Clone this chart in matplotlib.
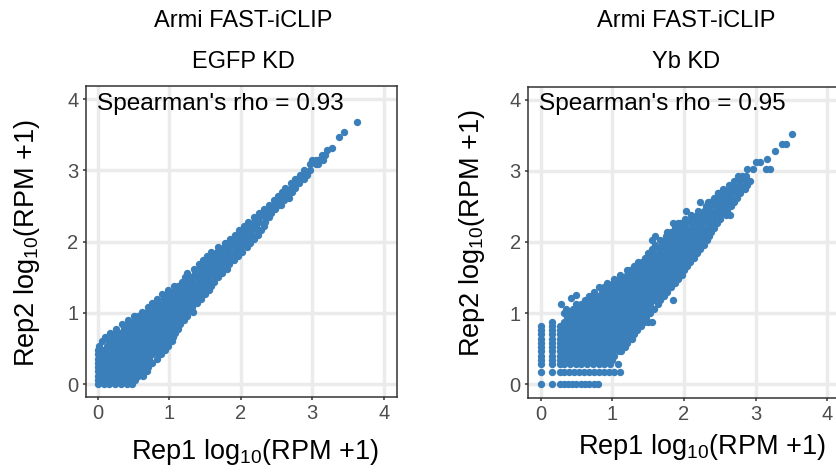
import numpy as np
import matplotlib
matplotlib.use("Agg")
import matplotlib.pyplot as plt

# values are read off the picture, in hundredths of a log10 unit
# each entry of *_levels is a Rep2 value, the matching row holds the Rep1 values
egfp_levels = [0, 6, 12, 18, 24, 30, 36, 42, 48, 54, 60, 66, 72, 78, 84, 90, 96, 102, 108, 114, 120, 126, 132, 138,
               144, 150, 156, 162, 168, 174, 180, 186, 192, 198, 204, 210, 216, 222, 228, 234, 240, 246, 252, 258,
               264, 270, 276, 282, 288, 294, 300, 309, 314, 315, 322, 329, 332, 347, 354, 368, 261]
egfp_rows = [
    [0, 8, 16, 24, 32, 40, 48],
    [0, 4, 12, 20, 28, 36, 44, 52],
    [0, 8, 16, 24, 32, 40, 48, 56, 63],
    [0, 4, 12, 20, 28, 36, 44, 52, 60, 68],
    [0, 8, 16, 24, 32, 40, 48, 56, 64, 70],
    [0, 4, 12, 20, 28, 36, 44, 52, 60, 68, 76],
    [0, 8, 16, 24, 32, 40, 48, 56, 64, 72, 82],
    [0, 4, 12, 20, 28, 36, 44, 52, 60, 68, 76, 84, 88],
    [0, 8, 16, 24, 32, 40, 48, 56, 64, 72, 80, 88, 94],
    [2, 12, 20, 28, 36, 44, 52, 60, 68, 76, 84, 92, 98],
    [5, 16, 24, 32, 40, 48, 56, 64, 72, 80, 88, 96, 103],
    [10, 20, 28, 36, 44, 52, 60, 68, 76, 84, 92, 100, 105],
    [17, 24, 32, 40, 48, 56, 64, 72, 80, 88, 96, 104, 108],
    [25, 36, 44, 52, 60, 68, 76, 84, 92, 100, 108, 112],
    [33, 40, 48, 56, 64, 72, 80, 88, 96, 104, 112, 115],
    [42, 52, 60, 68, 76, 84, 92, 100, 108, 116, 120],
    [50, 56, 64, 72, 80, 88, 96, 104, 112, 120, 124],
    [62, 68, 76, 84, 92, 100, 108, 116, 124, 133],
    [70, 80, 88, 96, 104, 112, 120, 128, 132],
    [76, 84, 92, 100, 108, 116, 124, 132, 138],
    [82, 92, 100, 108, 116, 124, 132, 140, 144],
    [90, 96, 104, 112, 120, 128, 136, 144, 150],
    [98, 108, 116, 124, 132, 140, 148, 155],
    [106, 112, 120, 128, 136, 144, 152, 158],
    [118, 124, 132, 140, 148, 156, 162],
    [122, 130, 138, 146, 154, 162, 168],
    [124, 136, 144, 152, 160, 168, 174],
    [134, 142, 150, 158, 166, 174, 180],
    [142, 148, 156, 164, 172, 180, 184],
    [147, 154, 162, 170, 178, 186, 190],
    [152, 160, 168, 176, 184, 192, 196],
    [158, 166, 174, 182, 190, 198, 202],
    [168, 176, 184, 192, 200, 208],
    [178, 186, 194, 202, 210, 213],
    [185, 193, 201, 209, 218],
    [192, 200, 208, 216, 224],
    [198, 206, 214, 222, 228],
    [205, 213, 221, 232],
    [210, 218, 226, 234],
    [218, 226, 234, 240],
    [226, 234, 242],
    [232, 240, 248],
    [240, 246, 252, 256],
    [246, 254, 260],
    [252, 258, 266],
    [258, 264, 272],
    [262, 270, 276],
    [270, 276, 281],
    [276, 282, 288],
    [283, 288, 292],
    [288, 297],
    [297, 305, 308],
    [299, 305],
    [315, 308],
    [313, 318],
    [321],
    [328],
    [338],
    [344],
    [362],
    [268],
]

yb_levels = [0, 17, 28, 34, 40, 46, 52, 58, 64, 70, 76, 82, 88, 94, 100, 106, 112, 118, 124, 130, 136, 142, 148, 154,
             160, 166, 172, 178, 184, 190, 196, 202, 208, 214, 220, 226, 232, 238, 244, 250, 256, 262, 268, 274,
             280, 286, 293, 302, 303, 312, 317, 328, 338, 351, 121, 126]
yb_rows = [
    [0, 16, 27, 33, 38, 44, 50, 56, 62, 68, 74, 80],
    [0, 16, 27, 33, 39, 46, 53, 60, 67, 74, 81, 88, 95, 103, 110],
    [0, 16, 27, 33, 41, 49, 57, 65, 73, 81, 89, 97, 108],
    [0, 16, 27, 33, 37, 45, 53, 61, 69, 77, 85, 93, 100],
    [0, 16, 27, 33, 41, 49, 57, 65, 73, 81, 89, 97, 103],
    [0, 16, 27, 33, 37, 45, 53, 61, 69, 77, 85, 93, 101, 109, 112],
    [0, 16, 27, 33, 41, 49, 57, 65, 73, 81, 89, 97, 105, 113, 118],
    [0, 16, 27, 33, 37, 45, 53, 61, 69, 77, 85, 93, 101, 109, 117, 120],
    [0, 16, 27, 33, 41, 49, 57, 65, 73, 81, 89, 97, 105, 113, 121, 127],
    [0, 16, 27, 33, 37, 45, 53, 61, 69, 77, 85, 93, 101, 109, 117, 125, 130],
    [0, 16, 27, 33, 41, 49, 57, 65, 73, 81, 89, 97, 105, 113, 121, 129, 135],
    [0, 16, 27, 33, 37, 45, 53, 61, 69, 77, 85, 93, 101, 109, 117, 125, 133, 140],
    [16, 33, 41, 49, 57, 65, 73, 81, 89, 97, 105, 113, 121, 129, 137, 144, 150, 155],
    [37, 45, 53, 61, 69, 77, 85, 93, 101, 109, 117, 125, 133, 141, 147],
    [33, 41, 49, 57, 65, 73, 81, 89, 97, 105, 113, 121, 129, 137, 145, 152],
    [36, 45, 53, 61, 69, 77, 85, 93, 101, 109, 117, 125, 133, 141, 149, 158],
    [28, 50, 57, 65, 73, 81, 89, 97, 105, 113, 121, 129, 137, 145, 153, 163],
    [62, 69, 77, 85, 93, 101, 109, 117, 125, 133, 141, 149, 157, 165, 167, 184],
    [68, 73, 81, 89, 97, 105, 113, 121, 129, 137, 145, 153, 161, 169, 172],
    [74, 85, 93, 101, 109, 117, 125, 133, 141, 149, 157, 165, 173, 176],
    [82, 89, 97, 105, 113, 121, 129, 137, 145, 153, 161, 169, 177, 182],
    [92, 101, 109, 117, 125, 133, 141, 149, 157, 165, 173, 181, 187],
    [102, 109, 117, 125, 133, 141, 149, 157, 165, 173, 181, 189, 192],
    [110, 121, 129, 137, 145, 153, 161, 169, 177, 185, 193, 197],
    [120, 125, 133, 141, 149, 157, 165, 173, 181, 189, 197, 200],
    [130, 137, 145, 153, 161, 169, 177, 185, 193, 201, 204],
    [136, 141, 149, 157, 165, 173, 181, 189, 197, 205, 208],
    [145, 153, 161, 169, 177, 185, 193, 201, 209, 214],
    [150, 157, 165, 173, 181, 189, 197, 205, 213, 218],
    [156, 165, 173, 181, 189, 197, 205, 213, 222],
    [160, 169, 177, 185, 193, 201, 209, 217, 225, 228],
    [155, 166, 173, 181, 189, 197, 205, 213, 221, 229, 232],
    [159, 175, 183, 191, 199, 207, 215, 223, 231, 235],
    [176, 182, 189, 197, 205, 213, 221, 229, 238],
    [188, 195, 203, 211, 219, 227, 235, 242],
    [185, 192, 194, 201, 209, 217, 225, 233, 241, 246],
    [202, 209, 217, 225, 233, 241, 250],
    [210, 218, 226, 234, 242, 250, 258, 264],
    [203, 220, 228, 236, 244, 252, 260],
    [230, 238, 246, 254, 262, 265],
    [222, 233, 236, 244, 252, 260, 268, 270],
    [242, 250, 258, 266, 274],
    [247, 248, 256, 264, 272, 278],
    [255, 263, 271, 279, 285],
    [262, 270, 278, 288],
    [270, 278, 286, 292],
    [275, 281, 287],
    [288, 296],
    [320, 314],
    [301, 306],
    [315],
    [327],
    [336, 342],
    [350],
    [43],
    [50],
]

ticks = [0, 1, 2, 3, 4]
titles_top = ["Armi FAST-iCLIP", "Armi FAST-iCLIP"]
titles_bottom = ["EGFP KD", "Yb KD"]
rho_labels = ["Spearman's rho = 0.93", "Spearman's rho = 0.95"]
x_label = "Rep1 log$_{10}$(RPM +1)"
y_label = "Rep2 log$_{10}$(RPM +1)"

W, H = 837, 472
plt.rcParams["font.family"] = ["Liberation Sans", "DejaVu Sans"]
plt.rcParams["mathtext.default"] = "regular"


def expand(levels, rows):
    x = np.concatenate(rows) / 100
    y = np.repeat(levels, [len(r) for r in rows]) / 100
    return x, y


def make_panel(fig, box, xlim, ylim, levels, rows, rho, rho_x):
    left, top, right, bottom = box
    ax = fig.add_axes([left / W, 1 - bottom / H, (right - left) / W, (bottom - top) / H])
    ax.set_xlim(xlim)
    ax.set_ylim(ylim)
    ax.set_xticks(ticks)
    ax.set_yticks(ticks)
    ax.grid(True, color="#EBEBEB", linewidth=2.5)
    ax.set_axisbelow(True)
    ax.tick_params(colors="#4D4D4D", labelsize=14.5, length=2.5, width=1.1, pad=2.5)
    ax.tick_params(axis="both", color="#333333")
    for s in ax.spines.values():
        s.set_color("#333333")
        s.set_linewidth(1.1)
    x, y = expand(levels, rows)
    ax.scatter(x, y, s=28, color="#3A7FBA", linewidths=0, zorder=3)
    fig.text(rho_x / W, 1 - 104 / H, rho, fontsize=17.6, color="black", ha="left", va="center")
    return ax


def main():
    fig = plt.figure(figsize=(W / 100, H / 100), dpi=100)
    make_panel(fig, (85.5, 86, 396.6, 397), (-0.175, 4.18), (-0.18, 4.185), egfp_levels, egfp_rows, rho_labels[0], 97)
    make_panel(fig, (527.7, 86.7, 840.4, 397.7), (-0.18, 4.18), (-0.19, 4.18), yb_levels, yb_rows, rho_labels[1], 539)

    for cx, top, bot in [(243, titles_top[0], titles_bottom[0]), (686, titles_top[1], titles_bottom[1])]:
        fig.text(cx / W, 1 - 21 / H, top, fontsize=17, ha="center", va="center")
        fig.text(cx / W, 1 - 62 / H, bot, fontsize=17, ha="center", va="center")

    fig.text(255 / W, 1 - 452 / H, x_label, fontsize=19.5, ha="center", va="center")
    fig.text(702 / W, 1 - 447 / H, x_label, fontsize=19.5, ha="center", va="center")
    fig.text(27 / W, 1 - 243 / H, y_label, fontsize=19.5, rotation=90, ha="center", va="center")
    fig.text(472 / W, 1 - 233 / H, y_label, fontsize=19.5, rotation=90, ha="center", va="center")

    fig.savefig("out.png", dpi=100)


if __name__ == "__main__":
    main()
